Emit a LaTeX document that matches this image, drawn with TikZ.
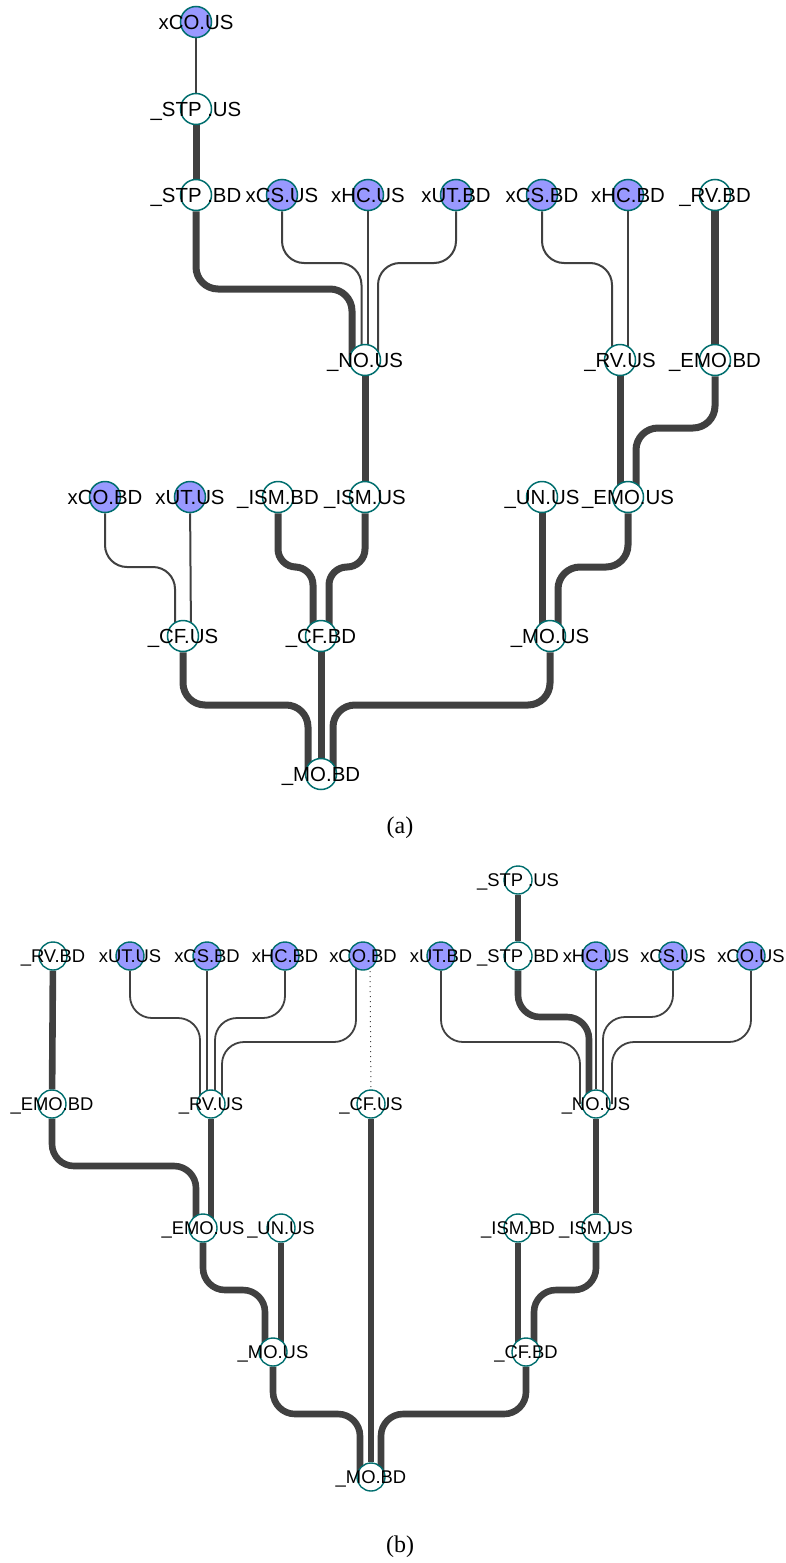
\documentclass[tikz,border=0pt]{standalone}
\usepackage{fontspec}
\setmainfont{Liberation Sans}
\newfontfamily\capfont{Liberation Serif}
\usetikzlibrary{calc}
\pgfdeclarelayer{edges}
\pgfsetlayers{edges,main}
\definecolor{ringteal}{RGB}{0,110,110}
\definecolor{leafblue}{RGB}{153,153,255}
\definecolor{edgegray}{RGB}{64,64,64}

\begin{document}
\begin{tikzpicture}[x=0.5pt,y=-0.5pt,
  junc/.style={circle,draw=ringteal,line width=0.75pt,fill=white,inner sep=0pt,
    minimum size=15.5pt,text height=7.1pt,text depth=0pt,
    font=\fontsize{10.2}{12}\selectfont},
  leaf/.style={junc,fill=leafblue},
  thinlink/.style={edgegray,line width=1pt,rounded corners=11pt},
  thicklink/.style={edgegray,line width=3.5pt,rounded corners=11pt},
  heavylink/.style={edgegray,line width=4pt},
  dotlink/.style={edgegray,line width=0.5pt,dotted},
  caption/.style={font=\capfont\fontsize{12}{14}\selectfont}]
  \useasboundingbox (0,0) rectangle (786,1563);

  \node[leaf] at (196,22) (aCOUS) {\makebox[0pt]{xCO.US}};
  \node[junc] at (196,109) (aSTPUS) {\makebox[0pt]{\_STP .US}};
  \node[junc] at (196,195) (aSTPBD) {\makebox[0pt]{\_STP .BD}};
  \node[leaf] at (282,195) (aCSUS) {\makebox[0pt]{xCS.US}};
  \node[leaf] at (368,195) (aHCUS) {\makebox[0pt]{xHC.US}};
  \node[leaf] at (456,195) (aUTBD) {\makebox[0pt]{xUT.BD}};
  \node[leaf] at (542,195) (aCSBD) {\makebox[0pt]{xCS.BD}};
  \node[leaf] at (628,195) (aHCBD) {\makebox[0pt]{xHC.BD}};
  \node[junc] at (715,195) (aRVBD) {\makebox[0pt]{\_RV.BD}};
  \node[junc] at (365,360) (aNOUS) {\makebox[0pt]{\_NO.US}};
  \node[junc] at (620,360) (aRVUS) {\makebox[0pt]{\_RV.US}};
  \node[junc] at (715,360) (aEMOBD) {\makebox[0pt]{\_EMO.BD}};
  \node[leaf] at (105,497) (aCOBD) {\makebox[0pt]{xCO.BD}};
  \node[leaf] at (190,497) (aUTUS) {\makebox[0pt]{xUT.US}};
  \node[junc] at (278,497) (aISMBD) {\makebox[0pt]{\_ISM.BD}};
  \node[junc] at (365,497) (aISMUS) {\makebox[0pt]{\_ISM.US}};
  \node[junc] at (542,497) (aUNUS) {\makebox[0pt]{\_UN.US}};
  \node[junc] at (628,497) (aEMOUS) {\makebox[0pt]{\_EMO.US}};
  \node[junc] at (183,636) (aCFUS) {\makebox[0pt]{\_CF.US}};
  \node[junc] at (321,636) (aCFBD) {\makebox[0pt]{\_CF.BD}};
  \node[junc] at (550,636) (aMOUS) {\makebox[0pt]{\_MO.US}};
  \node[junc] at (321,774) (aMOBD) {\makebox[0pt]{\_MO.BD}};
  \node[caption] at (400,828) (aCap) {(a)};

  \begin{pgfonlayer}{edges}
  \draw[thinlink] (aCOUS) -- (aSTPUS);
  \draw[thicklink] (aSTPUS) -- (aSTPBD);
  \draw[thicklink] (aSTPBD) -- ++(0,94) -| ([xshift=-6.5pt]aNOUS.center);
  \draw[thinlink] (aCSUS) -- ++(0,68) -| ([xshift=-1.75pt]aNOUS.center);
  \draw[thinlink] (aHCUS) -- (aHCUS |- aNOUS);
  \draw[thinlink] (aUTBD) -- ++(0,68) -| ([xshift=6.5pt]aNOUS.center);
  \draw[thicklink] (aNOUS) -- (aISMUS);
  \draw[thinlink] (aCSBD) -- ++(0,68) -| ([xshift=-4pt]aRVUS.center);
  \draw[thinlink] (aHCBD) -- (aHCBD |- aRVUS);
  \draw[heavylink] (aRVBD) -- (aEMOBD);
  \draw[thicklink] (aRVUS) -- (aRVUS |- aEMOUS);
  \draw[thicklink] (aEMOBD) -- ++(0,68) -| ([xshift=4pt]aEMOUS.center);
  \draw[thicklink] (aUNUS) -- (aUNUS |- aMOUS);
  \draw[thicklink] (aEMOUS) -- ++(0,70) -| ([xshift=4pt]aMOUS.center);
  \draw[thinlink] (aCOBD) -- ++(0,70) -| ([xshift=-4pt]aCFUS.center);
  \draw[thinlink] (aUTUS) -- ([xshift=4pt]aCFUS.center);
  \draw[thicklink,rounded corners=9pt] (aISMBD) -- ++(0,70) -| ([xshift=-4pt]aCFBD.center);
  \draw[thicklink,rounded corners=9pt] (aISMUS) -- ++(0,70) -| ([xshift=4pt]aCFBD.center);
  \draw[thicklink] (aCFUS) -- ++(0,69) -| ([xshift=-6.5pt]aMOBD.center);
  \draw[thicklink] (aCFBD) -- (aMOBD);
  \draw[thicklink] (aMOUS) -- ++(0,69) -| ([xshift=6pt]aMOBD.center);
  \end{pgfonlayer}

  \begin{scope}[junc/.append style={minimum size=14pt,line width=0.7pt,
      text height=6.4pt,font=\fontsize{9.2}{11}\selectfont},
    thinlink/.append style={line width=0.9pt},
    thicklink/.append style={line width=3.3pt}]
  \node[junc] at (518,880) (bSTPUS) {\makebox[0pt]{\_STP .US}};
  \node[junc] at (53,956) (bRVBD) {\makebox[0pt]{\_RV.BD}};
  \node[leaf] at (130,956) (bUTUS) {\makebox[0pt]{xUT.US}};
  \node[leaf] at (207,956) (bCSBD) {\makebox[0pt]{xCS.BD}};
  \node[leaf] at (285,956) (bHCBD) {\makebox[0pt]{xHC.BD}};
  \node[leaf] at (363,956) (bCOBD) {\makebox[0pt]{xCO.BD}};
  \node[leaf] at (441,956) (bUTBD) {\makebox[0pt]{xUT.BD}};
  \node[junc] at (518,956) (bSTPBD) {\makebox[0pt]{\_STP .BD}};
  \node[leaf] at (596,956) (bHCUS) {\makebox[0pt]{xHC.US}};
  \node[leaf] at (673,956) (bCSUS) {\makebox[0pt]{xCS.US}};
  \node[leaf] at (751,956) (bCOUS) {\makebox[0pt]{xCO.US}};
  \node[junc] at (52,1104) (bEMOBD) {\makebox[0pt]{\_EMO.BD}};
  \node[junc] at (211,1104) (bRVUS) {\makebox[0pt]{\_RV.US}};
  \node[junc] at (371,1104) (bCFUS) {\makebox[0pt]{\_CF.US}};
  \node[junc] at (596,1104) (bNOUS) {\makebox[0pt]{\_NO.US}};
  \node[junc] at (203,1228) (bEMOUS) {\makebox[0pt]{\_EMO.US}};
  \node[junc] at (281,1228) (bUNUS) {\makebox[0pt]{\_UN.US}};
  \node[junc] at (518,1228) (bISMBD) {\makebox[0pt]{\_ISM.BD}};
  \node[junc] at (596,1228) (bISMUS) {\makebox[0pt]{\_ISM.US}};
  \node[junc] at (273,1352) (bMOUS) {\makebox[0pt]{\_MO.US}};
  \node[junc] at (526,1352) (bCFBD) {\makebox[0pt]{\_CF.BD}};
  \node[junc] at (371,1477) (bMOBD) {\makebox[0pt]{\_MO.BD}};
  \node[caption] at (400,1547) (bCap) {(b)};

  \begin{pgfonlayer}{edges}
  \draw[thicklink] (bSTPUS) -- (bSTPBD);
  \draw[thicklink] (bRVBD) -- (bEMOBD);
  \draw[thinlink] (bUTUS) -- ++(0,62) -| ([xshift=-5.5pt]bRVUS.center);
  \draw[thinlink] (bCSBD) -- (bCSBD |- bRVUS);
  \draw[thinlink] (bHCBD) -- ++(0,62) -| ([xshift=2pt]bRVUS.center);
  \draw[thinlink] ([xshift=-3.5pt]bCOBD.center) -- ++(0,86) -| ([xshift=5.5pt]bRVUS.center);
  \draw[dotlink] ([xshift=3.5pt]bCOBD.center) -- (bCFUS);
  \draw[thicklink] (bEMOBD) -- ++(0,62) -| ([xshift=-3.5pt]bEMOUS.center);
  \draw[thicklink] (bRVUS) -- ([xshift=4pt]bEMOUS.center);
  \draw[thicklink] (bEMOUS) -- ++(0,62) -| ([xshift=-4pt]bMOUS.center);
  \draw[thicklink] (bUNUS) -- ([xshift=4pt]bMOUS.center);
  \draw[thicklink] (bMOUS) -- ++(0,62) -| ([xshift=-5.5pt]bMOBD.center);
  \draw[thicklink] (bCFUS) -- (bMOBD);
  \draw[thicklink] (bCFBD) -- ++(0,62) -| ([xshift=5pt]bMOBD.center);
  \draw[thicklink] (bISMBD) -- ([xshift=-4pt]bCFBD.center);
  \draw[thicklink] (bISMUS) -- ++(0,62) -| ([xshift=4pt]bCFBD.center);
  \draw[thicklink] (bNOUS) -- (bISMUS);
  \draw[thinlink] (bUTBD) -- ++(0,86) -| ([xshift=-8pt]bNOUS.center);
  \draw[thicklink] (bSTPBD) -- ++(0,61) -| ([xshift=-3.5pt]bNOUS.center);
  \draw[thinlink] (bHCUS) -- (bNOUS);
  \draw[thinlink] (bCSUS) -- ++(0,61) -| ([xshift=3.5pt]bNOUS.center);
  \draw[thinlink] (bCOUS) -- ++(0,86) -| ([xshift=8pt]bNOUS.center);
  \end{pgfonlayer}
  \end{scope}
\end{tikzpicture}
\end{document}
